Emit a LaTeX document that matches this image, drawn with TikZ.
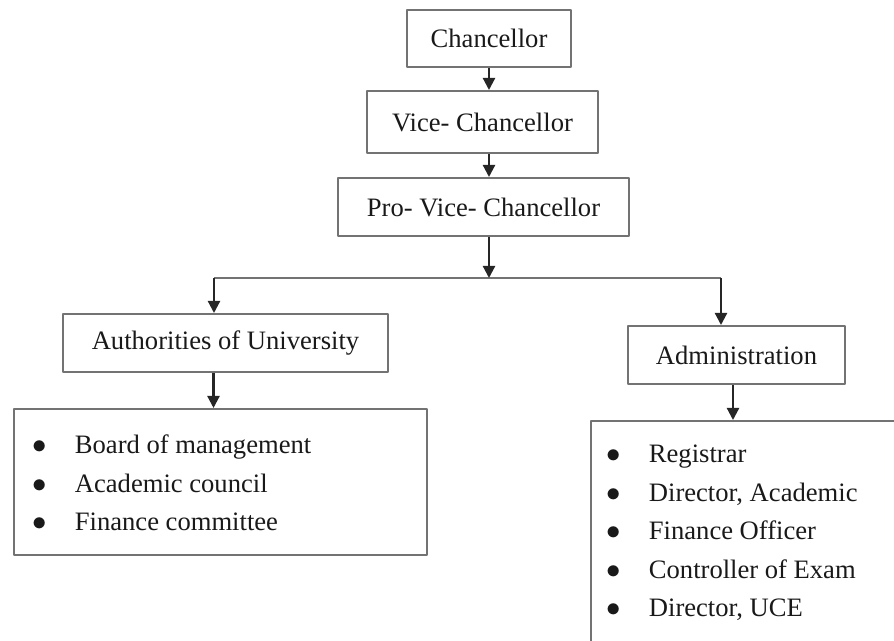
\documentclass[tikz,border=0pt]{standalone}
\usepackage{fontspec}
\setmainfont{Liberation Serif}
\usetikzlibrary{calc}
\usetikzlibrary{arrows.meta}
\usetikzlibrary{positioning}

\tikzset{
  post/.style={draw=black!55, line width=1pt, text=black!90, inner sep=0pt,
    font=\fontsize{13.3}{16}\selectfont},
  items/.style={align=left, inner sep=0pt, text=black!90,
    font=\fontsize{13.3}{19.2}\selectfont},
  link/.style={->, line width=1.1pt, draw=black!85},
  rail/.style={line width=1pt, draw=black!55},
}
\newcommand{\itembullet}{\makebox[21pt][l]{$\bullet$}}

\begin{document}
\begin{tikzpicture}[x=0.5pt, y=-0.5pt, line join=round, >={Triangle[length=6pt, width=6pt]}]
  \useasboundingbox (0,0) rectangle (894,641);
  \clip (0,0) rectangle (894,641);
  %--- Top of the chart
    \node[post, minimum width=82pt, minimum height=28.5pt] (chan) at (489,38.5) {Chancellor};
    \node[post, minimum width=115.5pt, minimum height=31pt] (vc) at (482.5,122) {Vice- Chancellor};
    \node[post, minimum width=145.5pt, minimum height=29pt] (provc) at (483.5,207) {Pro- Vice- Chancellor};
  %--- Two branches
    \node[post, minimum width=162.5pt, minimum height=29pt] (auth) at (225.5,343) {Authorities of University};
    \node[post, minimum width=108.5pt, minimum height=29pt] (admin) at (736.5,355) {Administration};
  %--- Lists
    \node[post, minimum width=206.5pt, minimum height=73pt, anchor=north west] (authlist) at (13,408) {};
    \node[items, anchor=west] (authitems) at (32.5,483) {\itembullet Board of management\\
      \itembullet Academic council\\
      \itembullet Finance committee};
    \node[post, minimum width=160pt, minimum height=120pt, anchor=north west] (adminlist) at (590,420) {};
    \node[items, anchor=west] (adminitems) at (606.5,533) {\itembullet Registrar\\
      \itembullet Director, Academic\\
      \itembullet Finance Officer\\
      \itembullet Controller of Exam\\
      \itembullet Director, UCE};
  %--- Arrows down the middle
    \coordinate (split) at (489,278);
    \coordinate (leftdrop) at (214,278);
    \coordinate (rightdrop) at (721,278);
    \draw[link] (chan.south) -- (chan.south |- vc.north);
    \draw[link] (vc.south -| chan.south) -- (chan.south |- provc.north);
    \draw[rail] (leftdrop) -- (rightdrop);
    \draw[link] (provc.south -| split) -- (split);
  %--- Branch arrows
    \draw[link] (leftdrop) -- (leftdrop |- auth.north);
    \draw[link] (rightdrop) -- (rightdrop |- admin.north);
    \draw[link] ($(auth.south)+(-12,0)$) coordinate (authdrop) -- (authdrop |- authlist.north);
    \draw[link] ($(admin.south)+(-3.5,0)$) coordinate (admindrop) -- (admindrop |- adminlist.north);
\end{tikzpicture}
\end{document}
